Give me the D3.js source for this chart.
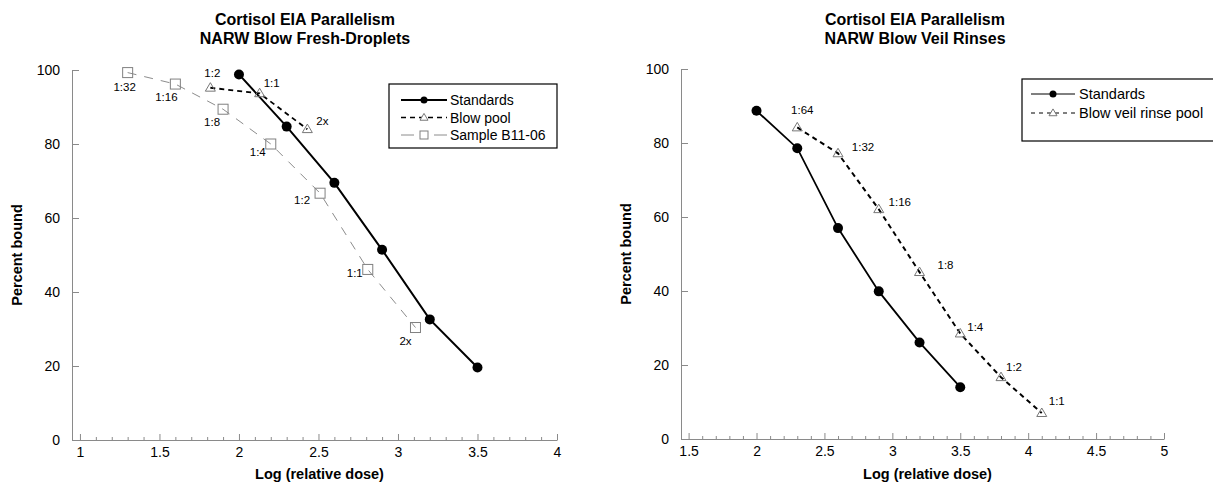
<!DOCTYPE html>
<html>
<head>
<meta charset="utf-8">
<script src="https://cdn.jsdelivr.net/npm/d3@7"></script>
<style>
  html, body { margin: 0; padding: 0; background: #fff; }
  svg { display: block; }
  text { font-family: "Liberation Sans", Arial, sans-serif; fill: #000; }
</style>
</head>
<body>
<svg id="chart" width="1213" height="484"></svg>
<script>
// ---------- DATA ----------
const leftTitle = ["Cortisol EIA Parallelism", "NARW Blow Fresh-Droplets"];
const rightTitle = ["Cortisol EIA Parallelism", "NARW Blow Veil Rinses"];
const xAxisTitle = "Log (relative dose)";
const yAxisTitle = "Percent bound";

const leftXTicks = [1, 1.5, 2, 2.5, 3, 3.5, 4];
const rightXTicks = [1.5, 2, 2.5, 3, 3.5, 4, 4.5, 5];
const yTicks = [0, 20, 40, 60, 80, 100];

const leftSeriesNames = ["Standards", "Blow pool", "Sample B11-06"];
const leftStdX = [2.0, 2.3, 2.6, 2.9, 3.2, 3.5];
const leftStdY = [98.8, 84.7, 69.5, 51.4, 32.6, 19.6];
const blowPoolX = [1.82, 2.13, 2.43];
const blowPoolY = [95.2, 93.7, 84.0];
const blowPoolLabels = ["1:2", "1:1", "2x"];
const sampleX = [1.30, 1.60, 1.90, 2.20, 2.51, 2.81, 3.11];
const sampleY = [99.3, 96.2, 89.4, 80.0, 66.7, 46.1, 30.4];
const sampleLabels = ["1:32", "1:16", "1:8", "1:4", "1:2", "1:1", "2x"];

const rightSeriesNames = ["Standards", "Blow veil rinse pool"];
const rightStdX = [2.0, 2.3, 2.6, 2.9, 3.2, 3.5];
const rightStdY = [88.7, 78.6, 57.0, 39.9, 26.1, 14.0];
const veilX = [2.3, 2.6, 2.9, 3.2, 3.5, 3.8, 4.1];
const veilY = [84.2, 77.2, 62.1, 45.1, 28.5, 16.7, 7.0];
const veilLabels = ["1:64", "1:32", "1:16", "1:8", "1:4", "1:2", "1:1"];

// ---------- LAYOUT (label offsets in px, not data) ----------
const blowPoolLabelOff = [[2, -15], [12, -10], [15, -8]];
const sampleLabelOff = [[-3, 14], [-9, 13], [-11, 13], [-13, 8], [-18, 7], [-13, 4], [-10, 13]];
const veilLabelOff = [[5, -17], [25, -6], [21, -7], [26, -7], [15, -7], [13, -10], [15, -12]];

const svg = d3.select("#chart");
const AXIS_COLOR = "#8a8a8a";
const GRAY = "#8c8c8c";

const zip = (xs, ys) => xs.map((x, i) => [x, ys[i]]);

function trianglePath(cx, cy, s) {
  const h = s * 0.85;
  return `M${cx},${cy - h * 0.6}L${cx + s / 2},${cy + h * 0.4}L${cx - s / 2},${cy + h * 0.4}Z`;
}

function drawPanel(cfg) {
  const g = svg.append("g");
  const x = d3.scaleLinear().domain(cfg.xDomain).range(cfg.xRange);
  const y = d3.scaleLinear().domain([0, 100]).range(cfg.yRange);

  // x axis: major ticks
  const xAxis = d3.axisBottom(x).tickValues(cfg.xTicks).tickSize(-6).tickSizeOuter(0)
    .tickPadding(12).tickFormat(d3.format(""));
  const gx = g.append("g").attr("transform", `translate(0,${cfg.yRange[0]})`).call(xAxis);
  // minor ticks
  const minor = d3.range(Math.round(cfg.xTicks[0] * 10), Math.round(cfg.xTicks[cfg.xTicks.length - 1] * 10) + 1)
    .map(v => v / 10).filter(v => Math.abs(v * 2 - Math.round(v * 2)) > 1e-6);
  const gxm = g.append("g").attr("transform", `translate(0,${cfg.yRange[0]})`)
    .call(d3.axisBottom(x).tickValues(minor).tickSize(-3).tickSizeOuter(0).tickFormat(""));
  gxm.select(".domain").remove();

  // y axis
  const yAxis = d3.axisLeft(y).tickValues(yTicks).tickSize(-7).tickSizeOuter(0).tickPadding(12);
  const gy = g.append("g").attr("transform", `translate(${cfg.xRange[0]},0)`).call(yAxis);

  [gx, gxm, gy].forEach(a => {
    a.selectAll(".domain").attr("stroke", AXIS_COLOR).attr("stroke-width", 1);
    a.selectAll(".tick line").attr("stroke", AXIS_COLOR).attr("stroke-width", 1);
    a.selectAll("text").style("font-family", '"Liberation Sans", Arial, sans-serif')
      .style("font-size", "14px").attr("fill", "#000");
  });
  gx.selectAll(".tick text").attr("dy", "0.32em").attr("y", 13);

  // titles
  cfg.title.forEach((t, i) => {
    g.append("text").attr("x", cfg.titleX).attr("y", 25 + i * 19)
      .attr("text-anchor", "middle").style("font-size", "16px").style("font-weight", "bold").text(t);
  });
  g.append("text").attr("x", (cfg.xRange[0] + cfg.xRange[1]) / 2 + 5).attr("y", 479)
    .attr("text-anchor", "middle").style("font-size", "14.5px").style("font-weight", "bold").text(xAxisTitle);
  g.append("text").attr("transform", `translate(${cfg.xRange[0] - 50},${(cfg.yRange[0] + cfg.yRange[1]) / 2}) rotate(-90)`)
    .attr("text-anchor", "middle").style("font-size", "14.5px").style("font-weight", "bold").text(yAxisTitle);

  const line = d3.line().x(d => x(d[0])).y(d => y(d[1]));

  cfg.series.forEach(s => {
    const pts = zip(s.xs, s.ys);
    g.append("path").datum(pts).attr("d", line).attr("fill", "none")
      .attr("stroke", s.stroke).attr("stroke-width", s.width)
      .attr("stroke-dasharray", s.dash || null);
    pts.forEach(p => drawMarker(g, s.marker, x(p[0]), y(p[1]), false));
    if (s.labels) {
      s.labels.forEach((lab, i) => {
        g.append("text").attr("x", x(s.xs[i]) + s.labelOff[i][0]).attr("y", y(s.ys[i]) + s.labelOff[i][1])
          .attr("text-anchor", "middle").attr("dominant-baseline", "central")
          .style("font-size", "11.5px").text(lab);
      });
    }
  });

  // legend
  const L = cfg.legend;
  g.append("rect").attr("x", L.x).attr("y", L.y).attr("width", L.w).attr("height", L.h)
    .attr("fill", "#fff").attr("stroke", "#000").attr("stroke-width", 1.2);
  cfg.series.forEach((s, i) => {
    const ly = L.rowY + i * L.rowGap;
    g.append("line").attr("x1", L.lx1).attr("x2", L.lx2).attr("y1", ly).attr("y2", ly)
      .attr("stroke", s.stroke).attr("stroke-width", s.legendWidth || s.width)
      .attr("stroke-dasharray", s.legendDash || s.dash || null);
    drawMarker(g, s.marker, (L.lx1 + L.lx2) / 2, ly, true);
    g.append("text").attr("x", L.tx).attr("y", ly).attr("dominant-baseline", "central")
      .style("font-size", L.font).text(s.name);
  });
}

function drawMarker(g, type, cx, cy, small) {
  if (type === "circle") {
    g.append("circle").attr("cx", cx).attr("cy", cy).attr("r", small ? 3.5 : 5).attr("fill", "#000");
  } else if (type === "triangle") {
    const s = small ? 8 : 10;
    g.append("path").attr("d", trianglePath(cx, cy, s)).attr("fill", small ? "#fff" : "none")
      .attr("stroke", "#777").attr("stroke-width", 1);
  } else if (type === "square") {
    const s = small ? 8 : 10;
    g.append("rect").attr("x", cx - s / 2).attr("y", cy - s / 2).attr("width", s).attr("height", s)
      .attr("fill", small ? "#fff" : "none").attr("stroke", "#808080").attr("stroke-width", 1);
  }
}

drawPanel({
  xDomain: [0.95, 4], xRange: [72, 557], yRange: [440, 70], xTicks: leftXTicks,
  title: leftTitle, titleX: 305,
  series: [
    { name: leftSeriesNames[0], xs: leftStdX, ys: leftStdY, stroke: "#000", width: 2, marker: "circle" },
    { name: leftSeriesNames[1], xs: blowPoolX, ys: blowPoolY, stroke: "#000", width: 1.8, dash: "5,4",
      marker: "triangle", labels: blowPoolLabels, labelOff: blowPoolLabelOff, legendWidth: 1.5 },
    { name: leftSeriesNames[2], xs: sampleX, ys: sampleY, stroke: GRAY, width: 1, dash: "9,8",
      marker: "square", labels: sampleLabels, labelOff: sampleLabelOff, legendDash: "13,20" }
  ],
  legend: { x: 389, y: 84, w: 168, h: 64, rowY: 100, rowGap: 17.5, lx1: 401, lx2: 447, tx: 450, font: "14px" }
});

drawPanel({
  xDomain: [1.444, 5], xRange: [681, 1164], yRange: [439, 69], xTicks: rightXTicks,
  title: rightTitle, titleX: 915,
  series: [
    { name: rightSeriesNames[0], xs: rightStdX, ys: rightStdY, stroke: "#000", width: 1.8, marker: "circle", legendWidth: 1 },
    { name: rightSeriesNames[1], xs: veilX, ys: veilY, stroke: "#000", width: 2, dash: "5,4",
      marker: "triangle", labels: veilLabels, labelOff: veilLabelOff, legendWidth: 1, legendDash: "4,4" }
  ],
  legend: { x: 1022, y: 79, w: 200, h: 62, rowY: 94, rowGap: 19, lx1: 1031, lx2: 1075, tx: 1079, font: "14.5px" }
});
</script>
</body>
</html>
